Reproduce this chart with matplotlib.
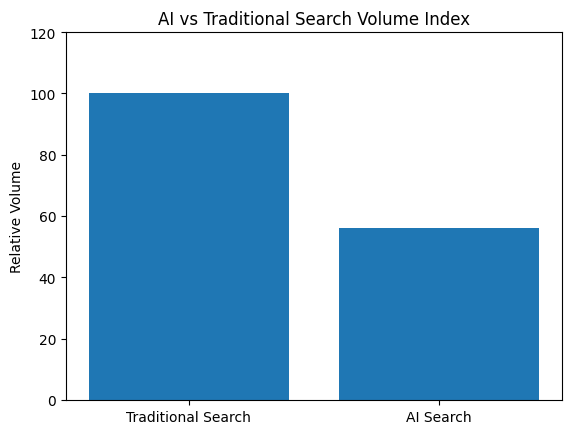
import matplotlib
matplotlib.use("Agg")
import matplotlib.pyplot as plt

# search volume index (traditional = 100 baseline)
categories = ["Traditional Search", "AI Search"]
volumes = [100, 56]

fig, ax = plt.subplots(figsize=(5.71, 4.35), dpi=100)
fig.subplots_adjust(left=0.1156, right=0.9842, top=0.9241, bottom=0.0782)
ax.bar(categories, volumes)
ax.set_ylim(0, 120)
ax.set_ylabel("Relative Volume")
ax.set_title("AI vs Traditional Search Volume Index")

fig.savefig("out.png", dpi=100)
